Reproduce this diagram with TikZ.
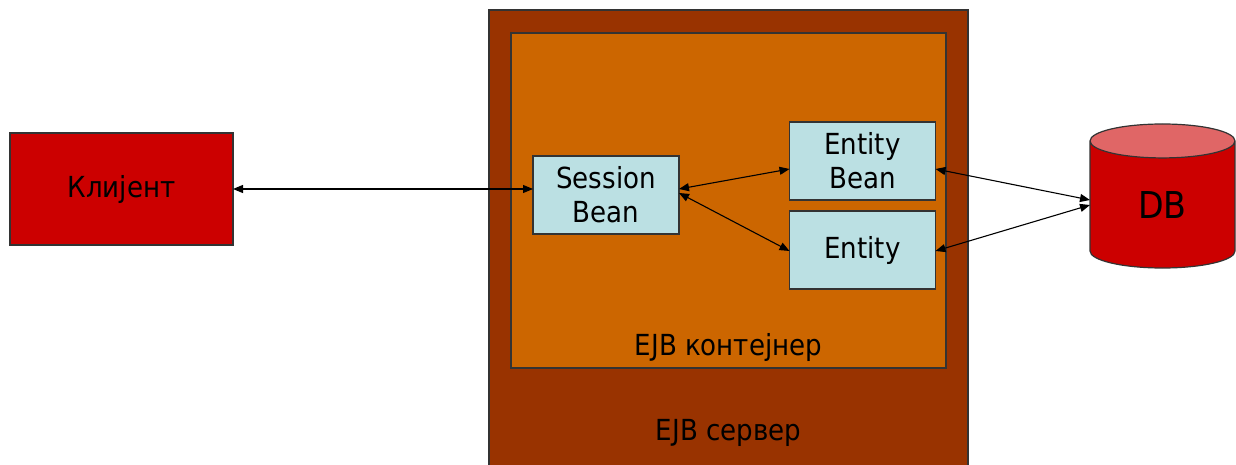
\documentclass[tikz,border=0pt]{standalone}
\usepackage{fontspec}
\setmainfont{DejaVu Sans Condensed}
\usetikzlibrary{positioning,shapes.geometric,arrows.meta}
\definecolor{srvbrown}{HTML}{993300}
\definecolor{ctrorange}{HTML}{CC6600}
\definecolor{clired}{HTML}{CC0000}
\definecolor{beanblue}{HTML}{BBE0E3}
\definecolor{dbtop}{HTML}{E06666}

\begin{document}
\begin{tikzpicture}
[x=1pt,y=1pt,
 every node/.style={draw=black!80,line width=1.2pt,inner sep=0pt,outer sep=0pt,align=center,font=\fontsize{29}{34}\selectfont},
 srv/.style={rectangle,fill=srvbrown,minimum width=479pt,minimum height=460pt},
 ctr/.style={rectangle,fill=ctrorange,minimum width=435pt,minimum height=335pt},
 cli/.style={rectangle,fill=clired,minimum width=223pt,minimum height=112pt},
 bean/.style={rectangle,fill=beanblue,minimum width=146pt,minimum height=78pt},
 db/.style={cylinder,shape border rotate=90,aspect=0.7,cylinder uses custom fill,
            cylinder body fill=clired,cylinder end fill=dbtop,anchor=shape center,
            minimum width=145pt,minimum height=144pt,font=\fontsize{37}{40}\selectfont},
 lbl/.style={draw=none,anchor=base},
 conn/.style={{Triangle[length=10pt,width=8pt]}-{Triangle[length=10pt,width=8pt]},line width=1.1pt,black}]
\useasboundingbox (0,0) rectangle (1236,464);

\node[srv]  (srv)      at (728.5,224)   {};
\node[ctr]  (ctr)      at (728.5,263.5) {};
\node[lbl]  (ctrlabel) at (728.5,109)   {EJB контејнер};
\node[lbl]  (srvlabel) at (728.5,24)    {EJB сервер};

\node[cli]  (cli) at (121.5,275) {Клијент};
\node[bean] (sb)  at (606,269)   {Session\\Bean};
\node[bean] (eb)  at (862.5,303) {Entity\\Bean};
\node[bean] (ent) [below=11pt of eb] {Entity};
\node[db]   (db)  at (1162.5,268) {DB};

\draw[conn] (cli.east) -- (cli.east -| sb.west);
\draw[conn] ([yshift=6pt]sb.east) -- ([yshift=-8pt]eb.west);
\draw[conn] ([yshift=2pt]sb.east) -- ([yshift=-1pt]ent.west);
\draw[conn] ([yshift=-8pt]eb.east) -- ([yshift=-4pt]db.west |- db.shape center);
\draw[conn] ([yshift=-1pt]ent.east) -- ([yshift=-9pt]db.west |- db.shape center);
\end{tikzpicture}
\end{document}
